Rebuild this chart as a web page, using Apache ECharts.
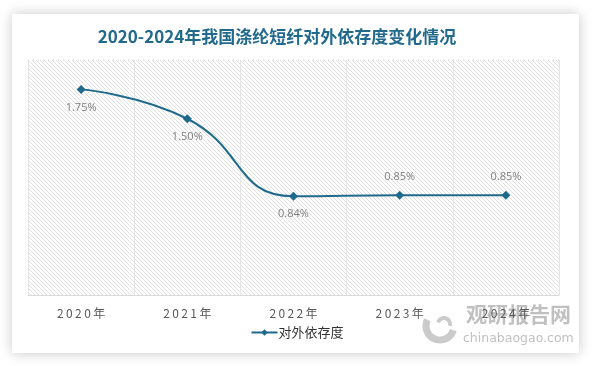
<!DOCTYPE html>
<html>
<head>
<meta charset="utf-8">
<script src="https://cdn.jsdelivr.net/npm/echarts@6/dist/echarts.min.js"></script>
<style>
html,body{margin:0;padding:0;background:#fff;}
#chart{width:594px;height:366px;}
</style>
</head>
<body>
<div id="chart"></div>
<script>
// Data
const categories = ['2020年', '2021年', '2022年', '2023年', '2024年'];
const seriesName = '对外依存度';
const values = [1.75, 1.50, 0.84, 0.85, 0.85];
const labelPositions = ['bottom', 'bottom', 'bottom', 'top', 'top'];
const titleText = '2020-2024年我国涤纶短纤对外依存度变化情况';

// hatch pattern
const pc = document.createElement('canvas');
pc.width = 4; pc.height = 4;
const g = pc.getContext('2d');
g.fillStyle = '#ffffff';
g.fillRect(0, 0, 4, 4);
g.strokeStyle = '#e0e0e0';
g.lineWidth = 1;
g.beginPath();
g.moveTo(-1, -1); g.lineTo(5, 5);
g.moveTo(-1, 3); g.lineTo(1, 5);
g.moveTo(3, -1); g.lineTo(5, 1);
g.stroke();

const mainColor = '#1f6a8c';
const chart = echarts.init(document.getElementById('chart'), null, {renderer: 'canvas'});

const seriesData = values.map((v, i) => ({
  value: v,
  label: {position: labelPositions[i], distance: 8}
}));

chart.setOption({
  animation: false,
  backgroundColor: '#ffffff',
  title: {
    text: titleText,
    left: 272,
    textAlign: 'center',
    top: 23,
    textStyle: {
      fontFamily: 'Noto Sans CJK SC',
      fontSize: 17,
      fontWeight: 'bold',
      color: '#226a8d'
    }
  },
  graphic: [
    {
      type: 'rect', z: -10, silent: true,
      shape: {x: 12, y: 14, width: 567, height: 339},
      style: {fill: '#ffffff', shadowBlur: 12, shadowColor: 'rgba(0,0,0,0.22)', shadowOffsetX: 0, shadowOffsetY: 0}
    },
    {
      type: 'line', z: 5, silent: true,
      shape: {x1: 28, y1: 60, x2: 559, y2: 60},
      style: {stroke: '#cccccc', lineWidth: 1, lineDash: [1, 4]}
    },
    {
      type: 'group', z: 50, silent: true,
      children: [
        {type: 'arc', shape: {cx: 440, cy: 326, r: 14, startAngle: 0.3, endAngle: 3.6}, style: {stroke: 'rgba(160,160,160,0.55)', lineWidth: 7, fill: null}},
        {type: 'arc', shape: {cx: 444, cy: 324, r: 6, startAngle: 3.4, endAngle: 6.6}, style: {stroke: 'rgba(160,160,160,0.55)', lineWidth: 4, fill: null}},
        {type: 'text', style: {x: 466, y: 304, text: '观研报告网', fontSize: 21, fontWeight: 'bold', fontFamily: 'Noto Sans CJK SC', fill: 'rgba(150,150,150,0.6)'}},
        {type: 'text', style: {x: 463, y: 332, text: 'chinabaogao.com', fontSize: 12.5, fontFamily: 'DejaVu Sans', fill: 'rgba(150,150,150,0.6)'}}
      ]
    }
  ],
  legend: {
    data: [seriesName],
    bottom: 22,
    left: 'center',
    itemWidth: 26,
    itemHeight: 8,
    itemGap: 4,
    textStyle: {fontFamily: 'Noto Sans CJK SC', fontSize: 13, color: '#333333', padding: [0, 0, 0, -4]}
  },
  grid: {
    left: 28, right: 35, top: 60, bottom: 71,
    show: true,
    backgroundColor: {image: pc, repeat: 'repeat'},
    borderWidth: 0
  },
  xAxis: {
    type: 'category',
    data: categories,
    boundaryGap: true,
    axisLine: {lineStyle: {color: '#d9d9d9', width: 1}},
    axisTick: {show: false},
    axisLabel: {margin: 12, fontFamily: 'Noto Sans CJK SC', fontSize: 12, color: '#595959',
      formatter: v => v.replace(/(\d)/g, '$1\u2009')},
    splitLine: {show: true, lineStyle: {color: '#e6e6e6', width: 1}}
  },
  yAxis: {
    type: 'value',
    min: 0, max: 2, interval: 0.5,
    show: false,
    splitLine: {show: false}
  },
  series: [{
    name: seriesName,
    type: 'line',
    data: seriesData,
    smooth: 0.5,
    symbol: 'diamond',
    symbolSize: 9,
    itemStyle: {color: mainColor},
    lineStyle: {color: mainColor, width: 2},
    label: {
      show: true,
      formatter: p => p.value.toFixed(2) + '%',
      fontFamily: 'Open Sans',
      fontSize: 11,
      color: '#7f7f7f'
    }
  }]
});
</script>
</body>
</html>
